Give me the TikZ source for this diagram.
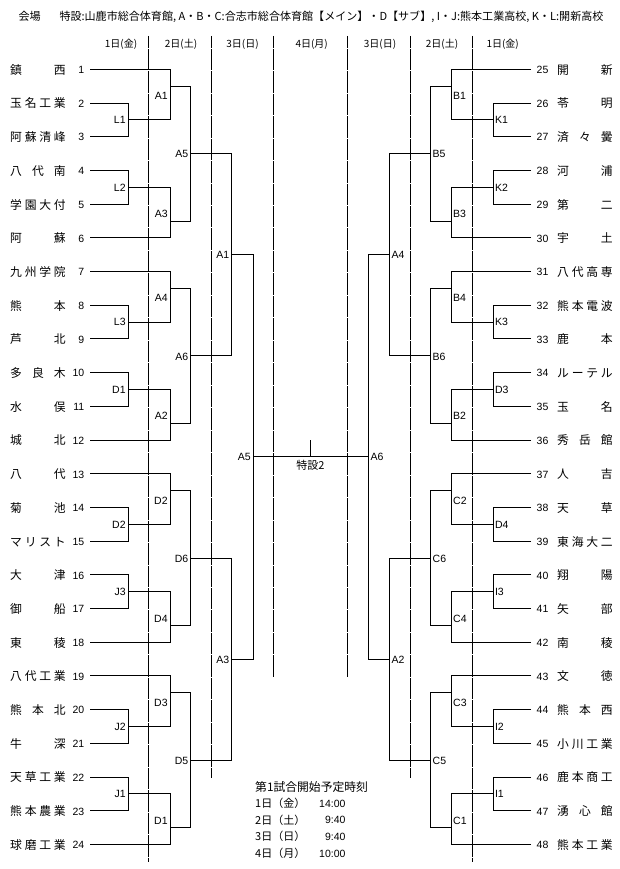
\documentclass[tikz,border=0pt]{standalone}
\usepackage{fontspec}
\setmainfont{Noto Sans CJK JP}
\newfontfamily\latf{Liberation Sans}
\def\TY#1{35.6+33.7*(#1)}
\begin{document}
\begin{tikzpicture}[x=1pt,y=-1pt,
  br/.style={line width=0.9pt},
  sep/.style={line width=0.9pt, dash pattern=on 21.47pt off 1pt, dash phase=9.74pt},
  lat/.style={inner sep=0pt, font=\latf\fontsize{10.5}{12}\selectfont},
  jp/.style={inner sep=0pt, font=\fontsize{11.8}{14}\selectfont},
  jps/.style={inner sep=0pt, font=\fontsize{11}{13}\selectfont},
  hdr/.style={inner sep=0pt, font=\fontsize{10}{12}\selectfont, anchor=base},
  ttl/.style={inner sep=0pt, font=\fontsize{11.05}{13}\selectfont, anchor=base west},
  lblL/.style={lat, anchor=base east},
  lblR/.style={lat, anchor=base west}]
\path[use as bounding box, fill=white] (0,0) rectangle (620,869);

% title and headers
\node[ttl] (ttl1) at (18.3,20.9) {会場};
\node[ttl] (ttl2) at (59.3,20.9) {特設:山鹿市総合体育館, A・B・C:合志市総合体育館【メイン】・D【サブ】, I・J:熊本工業高校, K・L:開新高校};
\foreach \x/\t [count=\c] in {121/1日(金), 181/2日(土), 242.5/3日(日), 311.7/4日(月), 380/3日(日), 442/2日(土), 502.7/1日(金)}
  \node[hdr] (h\c) at (\x,47.1) {\t};

% column separators
\foreach \x/\yb in {148.3/862, 211.7/778, 273.3/677, 347.7/677, 410/778, 472.3/862}
  \draw[sep] (\x,36) -- (\x,\yb);

% left teams
\foreach \i/\nm in {
 1/{鎮\hfill 西}, 2/{玉\hfill 名\hfill 工\hfill 業}, 3/{阿\hfill 蘇\hfill 清\hfill 峰},
 4/{八\hfill 代\hfill 南}, 5/{学\hfill 園\hfill 大\hfill 付}, 6/{阿\hfill 蘇},
 7/{九\hfill 州\hfill 学\hfill 院}, 8/{熊\hfill 本}, 9/{芦\hfill 北},
 10/{多\hfill 良\hfill 木}, 11/{水\hfill 俣}, 12/{城\hfill 北},
 13/{八\hfill 代}, 14/{菊\hfill 池}, 15/{マ\hfill リ\hfill ス\hfill ト},
 16/{大\hfill 津}, 17/{御\hfill 船}, 18/{東\hfill 稜},
 19/{八\hfill 代\hfill 工\hfill 業}, 20/{熊\hfill 本\hfill 北}, 21/{牛\hfill 深},
 22/{天\hfill 草\hfill 工\hfill 業}, 23/{熊\hfill 本\hfill 農\hfill 業}, 24/{球\hfill 磨\hfill 工\hfill 業}}
{
 \node[jp, anchor=base west] (n\i) at (10,{\TY{\i}+4.9}) {\makebox[55.5pt]{\nm}};
 \node[lat, anchor=base east] (k\i) at (84.5,{\TY{\i}+4.3}) {\i};
 \coordinate (t\i) at (90,{\TY{\i}});
}

% right teams
\foreach \i/\nm in {
 25/{開\hfill 新}, 26/{苓\hfill 明}, 27/{済\hfill 々\hfill 黌},
 28/{河\hfill 浦}, 29/{第\hfill 二}, 30/{宇\hfill 土},
 31/{八\hfill 代\hfill 高\hfill 専}, 32/{熊\hfill 本\hfill 電\hfill 波}, 33/{鹿\hfill 本},
 34/{ル\hfill ー\hfill テ\hfill ル}, 35/{玉\hfill 名}, 36/{秀\hfill 岳\hfill 館},
 37/{人\hfill 吉}, 38/{天\hfill 草}, 39/{東\hfill 海\hfill 大\hfill 二},
 40/{翔\hfill 陽}, 41/{矢\hfill 部}, 42/{南\hfill 稜},
 43/{文\hfill 徳}, 44/{熊\hfill 本\hfill 西}, 45/{小\hfill 川\hfill 工\hfill 業},
 46/{鹿\hfill 本\hfill 商\hfill 工}, 47/{湧\hfill 心\hfill 館}, 48/{熊\hfill 本\hfill 工\hfill 業}}
{
 \node[jp, anchor=base west] (n\i) at (557,{\TY{\i-24}+4.9}) {\makebox[55.5pt]{\nm}};
 \node[lat, anchor=base west] (k\i) at (536.5,{\TY{\i-24}+4.3}) {\i};
 \coordinate (t\i) at (531,{\TY{\i-24}});
}

% match junctions
\foreach \n/\x/\p in {mL1/128/2.5, mL2/128/4.5, mL3/128/8.5, mD1a/128/10.5,
  mD2a/128/14.5, mJ3/128/16.5, mJ2/128/20.5, mJ1/128/22.5,
  mA1b/170/1.5, mA3b/170/5.5, mA4b/170/7.5, mA2b/170/11.5,
  mD2b/170/13.5, mD4b/170/17.5, mD3b/170/19.5, mD1b/170/23.5,
  mA5c/190.7/3.5, mA6c/190.7/9.5, mD6c/190.7/15.5, mD5c/190.7/21.5,
  mA1d/231.7/6.5, mA3d/231.7/18.5, mA5e/253/12.5,
  mK1/493/2.5, mK2/493/4.5, mK3/493/8.5, mD3r/493/10.5,
  mD4r/493/14.5, mI3/493/16.5, mI2/493/20.5, mI1/493/22.5,
  mB1/451/1.5, mB3/451/5.5, mB4/451/7.5, mB2/451/11.5,
  mC2/451/13.5, mC4/451/17.5, mC3/451/19.5, mC1/451/23.5,
  mB5/430.3/3.5, mB6/430.3/9.5, mC6/430.3/15.5, mC5/430.3/21.5,
  mA4r/389.3/6.5, mA2r/389.3/18.5, mA6r/368/12.5}
  \coordinate (\n) at (\x,{\TY{\p}});

% bracket lines
\foreach \a/\b in {t2/mL1, t3/mL1, t4/mL2, t5/mL2, t8/mL3, t9/mL3, t10/mD1a, t11/mD1a,
  t14/mD2a, t15/mD2a, t16/mJ3, t17/mJ3, t20/mJ2, t21/mJ2, t22/mJ1, t23/mJ1,
  t1/mA1b, mL1/mA1b, mL2/mA3b, t6/mA3b, t7/mA4b, mL3/mA4b, mD1a/mA2b, t12/mA2b,
  t13/mD2b, mD2a/mD2b, mJ3/mD4b, t18/mD4b, t19/mD3b, mJ2/mD3b, mJ1/mD1b, t24/mD1b,
  mA1b/mA5c, mA3b/mA5c, mA4b/mA6c, mA2b/mA6c, mD2b/mD6c, mD4b/mD6c, mD3b/mD5c, mD1b/mD5c,
  mA5c/mA1d, mA6c/mA1d, mD6c/mA3d, mD5c/mA3d, mA1d/mA5e, mA3d/mA5e,
  t26/mK1, t27/mK1, t28/mK2, t29/mK2, t32/mK3, t33/mK3, t34/mD3r, t35/mD3r,
  t38/mD4r, t39/mD4r, t40/mI3, t41/mI3, t44/mI2, t45/mI2, t46/mI1, t47/mI1,
  t25/mB1, mK1/mB1, mK2/mB3, t30/mB3, t31/mB4, mK3/mB4, mD3r/mB2, t36/mB2,
  t37/mC2, mD4r/mC2, mI3/mC4, t42/mC4, t43/mC3, mI2/mC3, mI1/mC1, t48/mC1,
  mB1/mB5, mB3/mB5, mB4/mB6, mB2/mB6, mC2/mC6, mC4/mC6, mC3/mC5, mC1/mC5,
  mB5/mA4r, mB6/mA4r, mC6/mA2r, mC5/mA2r, mA4r/mA6r, mA2r/mA6r}
  \draw[br] (\a) -| (\b);
\draw[br] (mA5e) -- (mA6r);
\coordinate (fin) at (310.5,{\TY{12.5}});
\coordinate (fintop) at (310.5,440);
\draw[br] (fin) -- (fintop);
\node[jps, anchor=base] (tok) at (310.5,469.2) {特設2};

% match labels
\foreach \n/\p in {L1/2.5, L2/4.5, L3/8.5, D1/10.5, D2/14.5, J3/16.5, J2/20.5, J1/22.5}
  \node[lblL] (la-\n) at (125.8,{\TY{\p}+3.8}) {\n};
\foreach \n/\p in {A1/1.75, A3/5.25, A4/7.75, A2/11.25, D2/13.75, D4/17.25, D3/19.75, D1/23.25}
  \node[lblL] (lb-\n) at (167.8,{\TY{\p}+5.1}) {\n};
\foreach \n/\p in {A5/3.5, A6/9.5, D6/15.5, D5/21.5}
  \node[lblL] (lc-\n) at (188.5,{\TY{\p}+4.3}) {\n};
\foreach \n/\p in {A1/6.5, A3/18.5}
  \node[lblL] (ld-\n) at (229.5,{\TY{\p}+4}) {\n};
\node[lblL] (le-A5) at (250.8,{\TY{12.5}+4}) {A5};
\foreach \n/\p in {K1/2.5, K2/4.5, K3/8.5, D3/10.5, D4/14.5, I3/16.5, I2/20.5, I1/22.5}
  \node[lblR] (ra-\n) at (494.8,{\TY{\p}+3.8}) {\n};
\foreach \n/\p in {B1/1.75, B3/5.25, B4/7.75, B2/11.25, C2/13.75, C4/17.25, C3/19.75, C1/23.25}
  \node[lblR] (rb-\n) at (453,{\TY{\p}+5.1}) {\n};
\foreach \n/\p in {B5/3.5, B6/9.5, C6/15.5, C5/21.5}
  \node[lblR] (rc-\n) at (432.5,{\TY{\p}+4.3}) {\n};
\foreach \n/\p in {A4/6.5, A2/18.5}
  \node[lblR] (rd-\n) at (391.3,{\TY{\p}+4}) {\n};
\node[lblR] (re-A6) at (370.3,{\TY{12.5}+4}) {A6};

% schedule box
\node[jp, anchor=base west] (sch) at (255,791) {第1試合開始予定時刻};
\foreach \r/\d/\t in {0/1日（金）/14:00, 1/2日（土）/9:40, 2/3日（日）/9:40, 3/4日（月）/10:00}
{
  \node[jps, anchor=base west] (sd\r) at (255,{803.3+16.7*\r+4.2}) {\d};
  \node[lat, anchor=base east] (st\r) at (345.7,{803.3+16.7*\r+3.8}) {\t};
}
\end{tikzpicture}
\end{document}
